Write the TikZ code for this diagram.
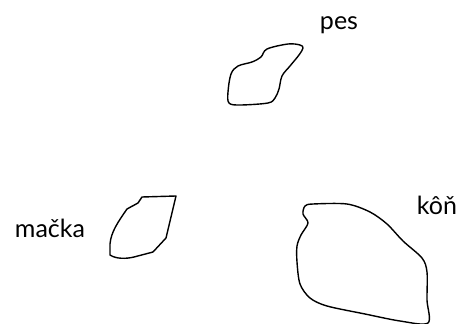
\documentclass[tikz,border=0pt]{standalone}
\usepackage{fontspec}
\setmainfont{Lato}
\begin{document}
\begin{tikzpicture}[x=1pt,y=-1pt,
  blob/.style={draw=black,line width=1.4pt,line join=round,line cap=round},
  lbl/.style={font=\fontsize{25}{28}\selectfont,inner sep=0pt,anchor=base}]
\useasboundingbox (0,0) rectangle (459,324);
% pes
\draw[blob] plot[smooth cycle,tension=0.55] coordinates {
 (267,49) (288,44) (300,45) (303,48) (299,55) (290,66) (282,76) (279,89)
 (275,98) (268,103) (240,105) (229,103) (228,92) (231,74) (238,66) (252,62) (261,57)};
% macka
\draw[blob] (176,196) -- (142,197) -- (138,203) -- (127,209)
  .. controls (118,222) and (111,232) .. (110,244)
  -- (110,255) .. controls (116,259) and (126,259) .. (134,257)
  -- (153,252) -- (166,238) -- cycle;
% kon
\draw[blob] plot[smooth cycle,tension=0.5] coordinates {
 (305,206) (313,204) (347,204) (370,212) (387,224) (403,241) (422,258) (427,272)
 (427,300) (428,323) (400,321) (365,314) (327,306) (310,298) (300,284) (297,262)
 (297,246) (301,235) (308,223) (303,214)};
\node[lbl] (pes) at (339,29) {pes};
\node[lbl] (macka) at (50,237) {mačka};
\node[lbl] (kon) at (437,214) {kôň};
\end{tikzpicture}
\end{document}
